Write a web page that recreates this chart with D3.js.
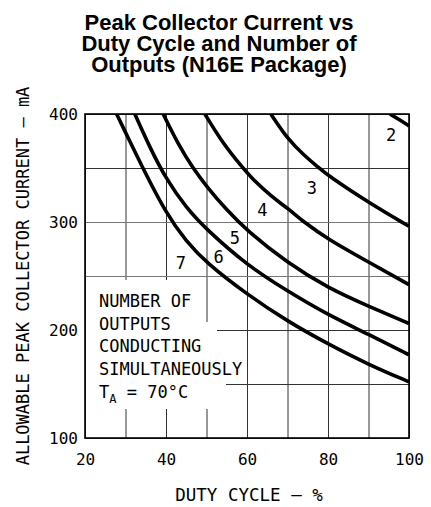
<!DOCTYPE html>
<html>
<head>
<meta charset="utf-8">
<script src="https://cdn.jsdelivr.net/npm/d3@7"></script>
<style>
  body { margin: 0; background: #fff; }
  .mono { font-family: "DejaVu Sans Mono", monospace; fill: #000; }
</style>
</head>
<body>
<script>
// Peak collector current vs duty cycle, one curve per number of outputs
// each curve: [duty cycle %, allowable peak current mA]
const outputs2 = [[95.3, 400], [97.5, 395], [100, 389]];
const outputs3 = [[65.9, 400], [70, 377], [74, 362], [77.8, 350], [80, 343], [90, 318], [100, 296]];
const outputs4 = [[49.6, 400], [54, 373], [59, 350], [61, 341], [66.5, 322], [70, 313], [74, 300], [80, 284], [90, 263], [100, 242]];
const outputs5 = [[39.3, 400], [43, 372], [46.6, 350], [50, 333], [55, 311], [60, 292], [70, 262], [80, 239], [90, 222], [100, 206]];
const outputs6 = [[32.3, 400], [36, 369], [40, 340], [45, 313], [50, 293], [60, 260], [70, 236], [80, 214], [90, 196], [100, 177]];
const outputs7 = [[27.8, 400], [30, 383], [34, 352], [40, 308], [45, 282], [50, 262], [60, 233], [70, 208], [80, 187], [90, 168], [100, 152]];

const curveNames = ["2", "3", "4", "5", "6", "7"];
// where each curve number sits, in data units
const curveLabelDuty = [95.6, 76.0, 63.8, 57.0, 53.0, 43.7];
const curveLabelCurrent = [381, 332, 311, 285, 268, 262];

const xGridTicks = [20, 30, 40, 50, 60, 70, 80, 90, 100];
const xLabelTicks = [20, 40, 60, 80, 100];
const yGridTicks = [100, 150, 200, 250, 300, 350, 400];
const yLabelTicks = [100, 200, 300, 400];

const titleLines = ["Peak Collector Current vs", "Duty Cycle and Number of", "Outputs (N16E Package)"];
const noteLines = ["NUMBER OF", "OUTPUTS", "CONDUCTING", "SIMULTANEOUSLY"];

const width = 431, height = 507;
const margin = { top: 114, right: 22, bottom: 69, left: 85 };
const plotW = width - margin.left - margin.right;
const plotH = height - margin.top - margin.bottom;

const svg = d3.select("body").append("svg")
    .attr("width", width)
    .attr("height", height);

const x = d3.scaleLinear().domain([20, 100]).range([margin.left, margin.left + plotW]);
const y = d3.scaleLinear().domain([100, 400]).range([margin.top + plotH, margin.top]);

// title
svg.append("g")
    .selectAll("text")
    .data(titleLines)
    .enter()
    .append("text")
    .attr("x", 219)
    .attr("y", (d, i) => 30 + i * 21)
    .attr("text-anchor", "middle")
    .style("font-family", "'Liberation Sans', Arial, sans-serif")
    .style("font-weight", "bold")
    .style("font-size", "22px")
    .text(d => d);

// grid
const gridX = svg.append("g")
    .attr("transform", `translate(0, ${margin.top + plotH})`)
    .call(d3.axisBottom(x).tickValues(xGridTicks).tickSize(-plotH).tickFormat(""));
const gridY = svg.append("g")
    .attr("transform", `translate(${margin.left}, 0)`)
    .call(d3.axisLeft(y).tickValues(yGridTicks).tickSize(-plotW).tickFormat(""));
[gridX, gridY].forEach(g => {
    g.select(".domain").remove();
    g.selectAll("line").attr("stroke", "#333").attr("stroke-width", 1);
});
gridY.selectAll("line").filter(d => d === 300 || d === 250).attr("stroke", "#777");

// white knock-outs behind the note text
const knock = svg.append("g").attr("fill", "#fff");
knock.append("rect").attr("x", x(20) + 1).attr("y", 280).attr("width", 200 - x(20) - 1).attr("height", 129);
knock.append("rect").attr("x", 200).attr("y", 322).attr("width", 17).attr("height", 87);
knock.append("rect").attr("x", 217).attr("y", 378).attr("width", 9).attr("height", 12);

// frame
svg.append("rect")
    .attr("x", margin.left)
    .attr("y", margin.top)
    .attr("width", plotW)
    .attr("height", plotH)
    .attr("fill", "none")
    .attr("stroke", "#000")
    .attr("stroke-width", 1.6);

// curves
svg.append("clipPath").attr("id", "plot-clip")
    .append("rect")
    .attr("x", margin.left).attr("y", margin.top)
    .attr("width", plotW).attr("height", plotH);

const line = d3.line()
    .x(d => x(d[0]))
    .y(d => y(d[1]))
    .curve(d3.curveBasis);

svg.append("g")
    .attr("clip-path", "url(#plot-clip)")
    .selectAll("path")
    .data([outputs2, outputs3, outputs4, outputs5, outputs6, outputs7])
    .enter()
    .append("path")
    .attr("d", line)
    .attr("fill", "none")
    .attr("stroke", "#000")
    .attr("stroke-width", 3.6)
    .attr("stroke-linecap", "butt");

// curve numbers
svg.append("g")
    .selectAll("text")
    .data(curveNames)
    .enter()
    .append("text")
    .attr("class", "mono")
    .attr("x", (d, i) => x(curveLabelDuty[i]))
    .attr("y", (d, i) => y(curveLabelCurrent[i]))
    .attr("text-anchor", "middle")
    .attr("dy", "0.36em")
    .style("font-size", "17px")
    .text(d => d);

// note
svg.append("g")
    .selectAll("text")
    .data(noteLines)
    .enter()
    .append("text")
    .attr("class", "mono")
    .attr("x", 99)
    .attr("y", (d, i) => 307 + i * 22.6)
    .style("font-size", "17px")
    .text(d => d);

const ta = svg.append("text")
    .attr("class", "mono")
    .attr("x", 99)
    .attr("y", 398)
    .style("font-size", "17px");
ta.append("tspan").text("T");
ta.append("tspan").attr("dy", 5).style("font-size", "12px").text("A");
ta.append("tspan").attr("dy", -5).text(" = 70°C");

// tick labels
const xAxis = svg.append("g")
    .attr("transform", `translate(0, ${margin.top + plotH})`)
    .call(d3.axisBottom(x).tickValues(xLabelTicks).tickSize(0).tickPadding(16));
const yAxis = svg.append("g")
    .attr("transform", `translate(${margin.left}, 0)`)
    .call(d3.axisLeft(y).tickValues(yLabelTicks).tickSize(0).tickPadding(7));
[xAxis, yAxis].forEach(g => {
    g.select(".domain").remove();
    g.selectAll("text")
        .attr("fill", "#000")
        .style("font-family", "'DejaVu Sans Mono', monospace")
        .style("font-size", "16px");
});

// axis titles
svg.append("text")
    .attr("class", "mono")
    .attr("x", 249)
    .attr("y", 501)
    .attr("text-anchor", "middle")
    .style("font-size", "17.5px")
    .text("DUTY CYCLE – %");

svg.append("text")
    .attr("class", "mono")
    .attr("transform", "translate(29, 276) rotate(-90)")
    .attr("text-anchor", "middle")
    .style("font-size", "17px")
    .text("ALLOWABLE PEAK COLLECTOR CURRENT – mA");
</script>
</body>
</html>
